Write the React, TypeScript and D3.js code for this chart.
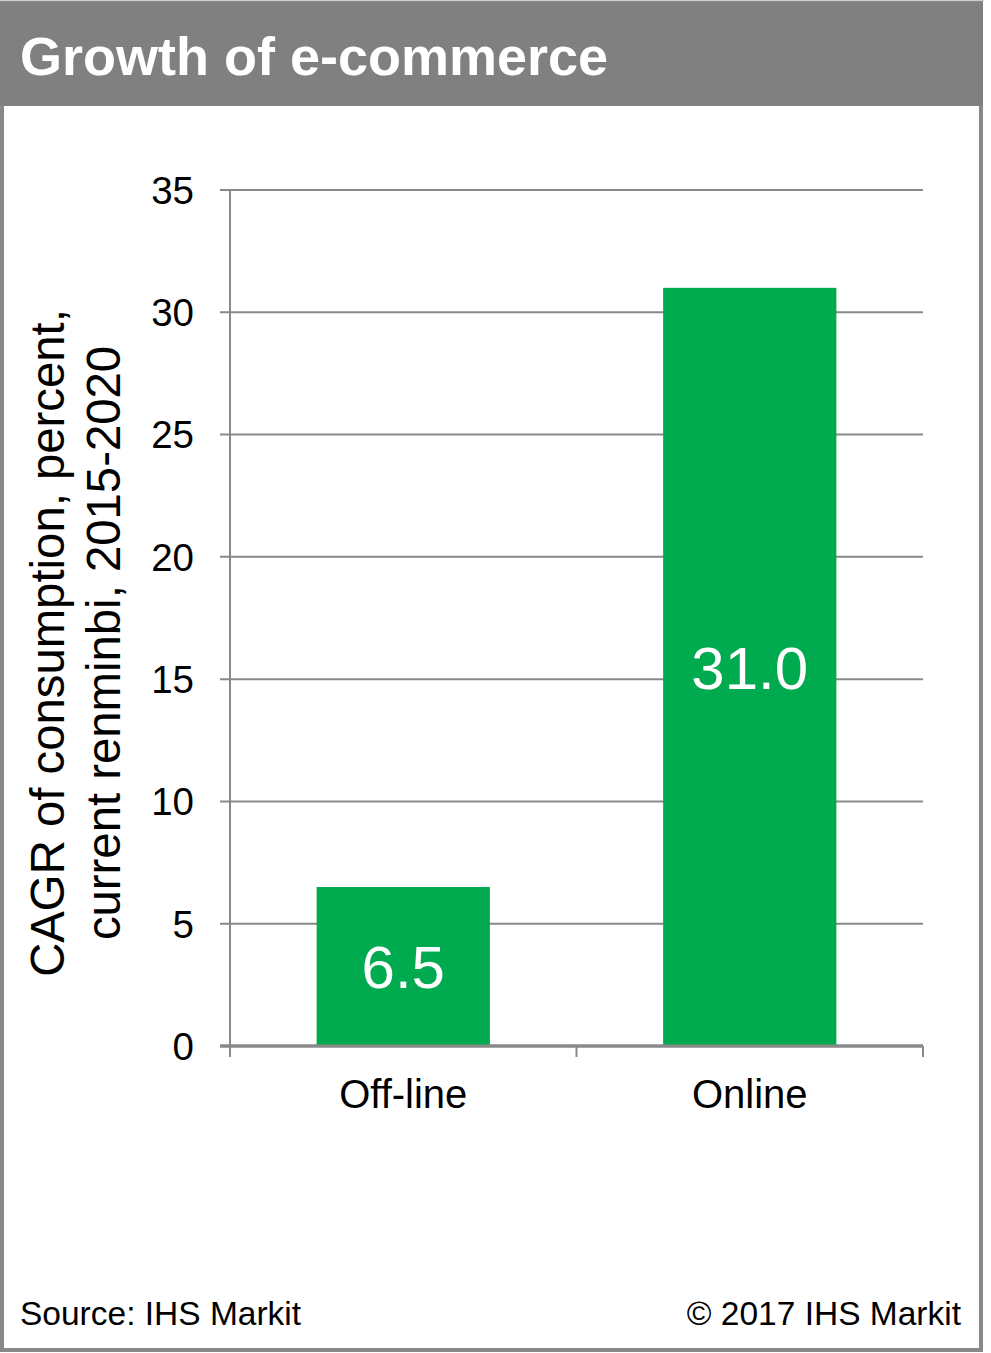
import React from "react";
import * as d3 from "d3";

const title = "Growth of e-commerce";
const categories = ["Off-line", "Online"];
const values = [6.5, 31.0];
const yTicks = [0, 5, 10, 15, 20, 25, 30, 35];
const yLabelLines = ["CAGR of consumption, percent,", "current renminbi, 2015-2020"];
const sourceText = "Source: IHS Markit";
const copyrightText = "© 2017 IHS Markit";

const W = 991;
const H = 1353;
const FONT = "'Liberation Sans', Arial, sans-serif";
const GRID = "#898989";
const GREEN = "#00AA4F";

const plot = { left: 230, right: 923, top: 190, bottom: 1046 };

export default function App() {
  const x = d3
    .scaleBand<string>()
    .domain(categories)
    .range([plot.left, plot.right])
    .paddingInner(0.5)
    .paddingOuter(0.25);
  const y = d3.scaleLinear().domain([0, 35]).range([plot.bottom, plot.top]);

  // category boundaries for the x-axis tick marks
  const bounds = d3
    .range(categories.length + 1)
    .map((i) => plot.left + (i * (plot.right - plot.left)) / categories.length);

  return (
    <div style={{ position: "absolute", left: 0, top: 0 }}>
      <svg width={W} height={H} style={{ display: "block" }} fontFamily={FONT}>
        <rect x={0} y={0} width={W} height={H} fill="#fff" />
        {/* outer frame */}
        <rect x={2} y={2} width={979} height={1348} fill="none" stroke="#888" strokeWidth={4} />
        <line x1={0} x2={984} y1={0.5} y2={0.5} stroke="#ccc" strokeWidth={1} />
        {/* title banner */}
        <rect x={0} y={2} width={983} height={104} fill="#7f807f" />
        <text x={20} y={75} fill="#fff" fontSize={54} fontWeight="bold">
          {title}
        </text>

        {/* gridlines and y ticks */}
        {yTicks.map((t) => (
          <g key={t}>
            <line
              x1={plot.left - 10}
              x2={plot.right}
              y1={y(t)}
              y2={y(t)}
              stroke={GRID}
              strokeWidth={t === 0 ? 3 : 2}
            />
            <text x={194} y={y(t)} dy="0.36em" textAnchor="end" fontSize={38.5} fill="#000">
              {t}
            </text>
          </g>
        ))}
        {/* y axis line */}
        <line x1={plot.left} x2={plot.left} y1={plot.top} y2={plot.bottom + 11} stroke={GRID} strokeWidth={2} />
        {/* x axis tick marks */}
        {bounds.map((b, i) => (
          <line key={i} x1={b} x2={b} y1={plot.bottom} y2={plot.bottom + 11} stroke={GRID} strokeWidth={2} />
        ))}

        {/* bars */}
        {categories.map((c, i) => (
          <g key={c}>
            <rect
              x={x(c)}
              y={y(values[i])}
              width={x.bandwidth()}
              height={y(0) - y(values[i])}
              fill={GREEN}
            />
            <text
              x={(x(c) as number) + x.bandwidth() / 2}
              y={(y(values[i]) + y(0)) / 2}
              dy="0.36em"
              textAnchor="middle"
              fontSize={60}
              fill="#fff"
            >
              {values[i].toFixed(1)}
            </text>
            <text
              x={(x(c) as number) + x.bandwidth() / 2}
              y={1108}
              textAnchor="middle"
              fontSize={40}
              fill="#000"
            >
              {c}
            </text>
          </g>
        ))}
        {/* redraw baseline over bars */}
        <line x1={plot.left - 10} x2={plot.right} y1={y(0)} y2={y(0)} stroke={GRID} strokeWidth={3} />

        {/* y axis title */}
        <g transform="translate(0, 643) rotate(-90)">
          {yLabelLines.map((l, i) => (
            <text key={i} x={0} y={64 + i * 56} textAnchor="middle" fontSize={47.3} fill="#000">
              {l}
            </text>
          ))}
        </g>

        {/* footer */}
        <text x={20} y={1325} fontSize={33.5} fill="#000">
          {sourceText}
        </text>
        <text x={961} y={1325} textAnchor="end" fontSize={33.5} fill="#000">
          {copyrightText}
        </text>
      </svg>
    </div>
  );
}
